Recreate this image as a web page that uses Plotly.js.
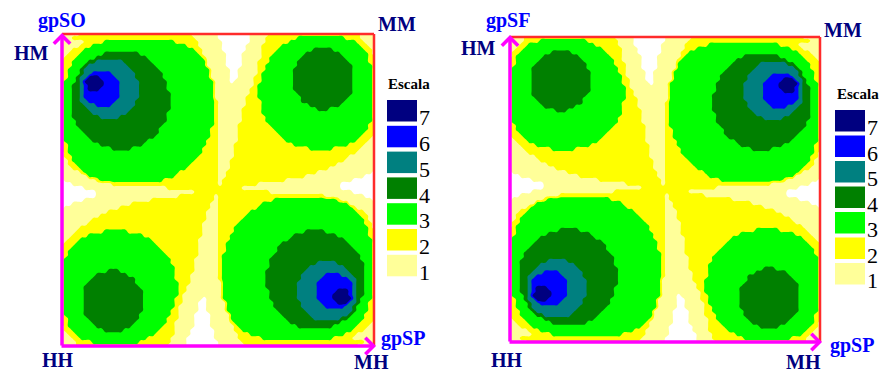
<!DOCTYPE html>
<html>
<head>
<meta charset="utf-8">
<script src="https://cdn.plot.ly/plotly-3.0.1.min.js"></script>
<style>
html,body{margin:0;padding:0;background:#ffffff;}
#chart{width:881px;height:372px;}
</style>
</head>
<body>
<div id="chart"></div>
<script>
// Scale level on an 80 x 80 grid (0 = blank, 1..7 = "Escala").
// Each row (top row first) is written as runs "level:count" along the row, left to right.
const leftLevelRuns = [
"1:5 2:28 1:7 0:8 1:5 2:23 1:4",
"1:3 2:31 1:6 0:8 1:4 2:8 3:12 2:4 1:4",
"1:6 2:5 3:18 2:6 1:6 0:7 1:4 2:6 3:17 2:2 1:3",
"1:5 2:3 3:24 2:3 1:6 0:6 1:4 2:5 3:20 2:2 1:2",
"1:3 2:3 3:28 2:2 1:5 0:6 1:4 2:4 3:9 4:5 3:8 2:2 1:1",
"1:2 2:3 3:6 4:9 3:15 2:1 1:6 0:4 1:5 2:3 3:8 4:9 3:7 2:1 1:1",
"1:1 2:3 3:5 4:13 3:14 2:1 1:5 0:4 1:5 2:2 3:8 4:11 3:6 2:2",
"2:3 3:4 4:2 5:7 4:7 3:14 1:5 0:4 1:4 2:3 3:7 4:13 3:5 2:2",
"2:3 3:3 4:1 5:10 4:7 3:13 1:5 0:4 1:4 2:2 3:8 4:14 3:5 2:1",
"2:2 3:3 4:1 5:12 4:7 3:13 1:5 0:2 1:5 2:2 3:7 4:15 3:5 2:1",
"2:2 3:3 4:1 5:2 6:5 5:6 4:7 3:12 1:5 0:2 1:5 2:1 3:8 4:15 3:5 2:1",
"2:2 3:2 4:1 5:2 7:3 6:4 5:5 4:7 3:12 1:5 0:2 1:4 2:2 3:8 4:15 3:5 2:1",
"2:1 3:3 4:1 5:1 7:5 6:4 5:5 4:7 3:12 1:4 0:1 1:5 2:2 3:8 4:15 3:5 2:1",
"2:1 3:2 4:2 5:1 6:1 7:4 6:4 5:5 4:7 3:12 1:10 2:1 3:9 4:15 3:5 2:1",
"2:1 3:2 4:2 5:1 6:1 7:3 6:5 5:5 4:7 3:12 1:9 2:2 3:9 4:15 3:5 2:1",
"2:1 3:2 4:2 5:1 6:9 5:5 4:8 3:11 1:9 2:2 3:10 4:14 3:5 2:1",
"2:1 3:2 4:2 5:1 6:9 5:5 4:8 3:11 1:8 2:3 3:11 4:12 3:6 2:1",
"2:1 3:2 4:2 5:2 6:7 5:5 4:9 3:11 2:1 1:7 2:4 3:10 4:11 3:7 2:1",
"2:1 3:2 4:3 5:3 6:4 5:6 4:9 3:11 2:1 1:7 2:4 3:12 4:8 3:8 2:1",
"2:1 3:2 4:4 5:11 4:10 3:11 2:1 1:6 2:5 3:14 4:3 3:11 2:1",
"2:1 3:2 4:5 5:9 4:10 3:12 2:1 1:6 2:5 3:28 2:1",
"2:1 3:2 4:7 5:5 4:12 3:12 2:1 1:6 2:6 3:27 2:1",
"2:1 3:3 4:23 3:12 2:1 1:6 2:6 3:27 2:1",
"2:1 3:3 4:22 3:13 2:1 1:5 2:8 3:25 2:2",
"2:1 3:4 4:20 3:13 2:2 1:5 2:9 3:24 2:2",
"2:1 3:5 4:19 3:13 2:2 1:5 2:10 3:22 2:3",
"2:1 3:6 4:17 3:14 2:2 1:5 2:11 3:20 2:3 1:1",
"2:1 3:7 4:14 3:15 2:3 1:5 2:12 3:18 2:3 1:2",
"2:2 3:8 4:11 3:16 2:3 1:4 2:15 3:14 2:4 1:3",
"2:2 3:11 4:5 3:18 2:4 1:4 2:19 3:6 2:7 1:4",
"1:1 2:1 3:34 2:4 1:4 2:31 1:5",
"1:1 2:2 3:32 2:5 1:4 2:29 1:7",
"1:2 2:1 3:31 2:6 1:3 2:29 1:8",
"1:2 2:2 3:29 2:7 1:3 2:27 1:10",
"1:3 2:2 3:27 2:8 1:3 2:25 1:12",
"1:5 2:1 3:24 2:10 1:2 2:23 1:14 0:1",
"1:7 3:22 2:11 1:2 2:20 1:15 0:3",
"0:1 1:8 2:1 3:16 2:14 1:1 2:16 1:17 0:6",
"0:3 1:10 2:27 1:1 2:9 1:21 0:9",
"0:6 1:21 2:19 1:25 0:9",
"0:9 1:25 2:19 1:21 0:6",
"0:9 1:21 2:9 1:1 2:27 1:10 0:3",
"0:6 1:17 2:16 1:1 2:14 3:16 2:1 1:8 0:1",
"0:3 1:15 2:20 1:2 2:11 3:22 1:7",
"0:1 1:14 2:23 1:2 2:10 3:24 2:1 1:5",
"1:12 2:25 1:3 2:8 3:27 2:2 1:3",
"1:10 2:27 1:3 2:7 3:29 2:2 1:2",
"1:8 2:29 1:3 2:6 3:31 2:1 1:2",
"1:7 2:29 1:4 2:5 3:32 2:2 1:1",
"1:5 2:31 1:4 2:4 3:34 2:1 1:1",
"1:4 2:7 3:6 2:19 1:4 2:4 3:18 4:5 3:11 2:2",
"1:3 2:4 3:14 2:15 1:4 2:3 3:16 4:11 3:8 2:2",
"1:2 2:3 3:18 2:12 1:5 2:3 3:15 4:14 3:7 2:1",
"1:1 2:3 3:20 2:11 1:5 2:2 3:14 4:17 3:6 2:1",
"2:3 3:22 2:10 1:5 2:2 3:13 4:19 3:5 2:1",
"2:2 3:24 2:9 1:5 2:2 3:13 4:20 3:4 2:1",
"2:2 3:25 2:8 1:5 2:1 3:13 4:22 3:3 2:1",
"2:1 3:27 2:6 1:6 2:1 3:12 4:23 3:3 2:1",
"2:1 3:27 2:6 1:6 2:1 3:12 4:12 5:5 4:7 3:2 2:1",
"2:1 3:28 2:5 1:6 2:1 3:12 4:10 5:9 4:5 3:2 2:1",
"2:1 3:11 4:3 3:14 2:5 1:6 2:1 3:11 4:10 5:11 4:4 3:2 2:1",
"2:1 3:8 4:8 3:12 2:4 1:7 2:1 3:11 4:9 5:6 6:4 5:3 4:3 3:2 2:1",
"2:1 3:7 4:11 3:10 2:4 1:7 2:1 3:11 4:9 5:5 6:7 5:2 4:2 3:2 2:1",
"2:1 3:6 4:12 3:11 2:3 1:8 3:11 4:8 5:5 6:9 5:1 4:2 3:2 2:1",
"2:1 3:5 4:14 3:10 2:2 1:9 3:11 4:8 5:5 6:9 5:1 4:2 3:2 2:1",
"2:1 3:5 4:15 3:9 2:2 1:9 3:12 4:7 5:5 6:5 7:3 6:1 5:1 4:2 3:2 2:1",
"2:1 3:5 4:15 3:9 2:1 1:10 3:12 4:7 5:5 6:4 7:4 6:1 5:1 4:2 3:2 2:1",
"2:1 3:5 4:15 3:8 2:2 1:5 0:1 1:4 3:12 4:7 5:5 6:4 7:5 5:1 4:1 3:3 2:1",
"2:1 3:5 4:15 3:8 2:2 1:4 0:2 1:5 3:12 4:7 5:5 6:4 7:3 5:2 4:1 3:2 2:2",
"2:1 3:5 4:15 3:8 2:1 1:5 0:2 1:5 3:12 4:7 5:6 6:5 5:2 4:1 3:3 2:2",
"2:1 3:5 4:15 3:7 2:2 1:5 0:2 1:5 3:13 4:7 5:12 4:1 3:3 2:2",
"2:1 3:5 4:14 3:8 2:2 1:4 0:4 1:5 3:13 4:7 5:10 4:1 3:3 2:3",
"2:2 3:5 4:13 3:7 2:3 1:4 0:4 1:5 3:14 4:7 5:7 4:2 3:4 2:3",
"2:2 3:6 4:11 3:8 2:2 1:5 0:4 1:5 2:1 3:14 4:13 3:5 2:3 1:1",
"1:1 2:1 3:7 4:9 3:8 2:3 1:5 0:4 1:6 2:1 3:15 4:9 3:6 2:3 1:2",
"1:1 2:2 3:8 4:5 3:9 2:4 1:4 0:6 1:5 2:2 3:28 2:3 1:3",
"1:2 2:2 3:20 2:5 1:4 0:6 1:6 2:3 3:24 2:3 1:5",
"1:3 2:2 3:17 2:6 1:4 0:7 1:6 2:6 3:18 2:5 1:6",
"1:4 2:4 3:12 2:8 1:4 0:8 1:6 2:31 1:3",
"1:4 2:23 1:5 0:8 1:7 2:28 1:5"
];
const rightLevelRuns = [
"1:4 2:23 1:5 0:8 1:7 2:28 1:5",
"1:4 2:4 3:12 2:8 1:4 0:8 1:6 2:31 1:3",
"1:3 2:2 3:17 2:6 1:4 0:7 1:6 2:6 3:18 2:5 1:6",
"1:2 2:2 3:20 2:5 1:4 0:6 1:6 2:3 3:24 2:3 1:5",
"1:1 2:2 3:8 4:5 3:9 2:4 1:4 0:6 1:5 2:2 3:28 2:3 1:3",
"1:1 2:1 3:7 4:9 3:8 2:3 1:5 0:4 1:6 2:1 3:15 4:9 3:6 2:3 1:2",
"2:2 3:6 4:11 3:8 2:2 1:5 0:4 1:5 2:1 3:14 4:13 3:5 2:3 1:1",
"2:2 3:5 4:13 3:7 2:3 1:4 0:4 1:5 3:14 4:7 5:7 4:2 3:4 2:3",
"2:1 3:5 4:14 3:8 2:2 1:4 0:4 1:5 3:13 4:7 5:10 4:1 3:3 2:3",
"2:1 3:5 4:15 3:7 2:2 1:5 0:2 1:5 3:13 4:7 5:12 4:1 3:3 2:2",
"2:1 3:5 4:15 3:8 2:1 1:5 0:2 1:5 3:12 4:7 5:6 6:5 5:2 4:1 3:3 2:2",
"2:1 3:5 4:15 3:8 2:2 1:4 0:2 1:5 3:12 4:7 5:5 6:4 7:3 5:2 4:1 3:2 2:2",
"2:1 3:5 4:15 3:8 2:2 1:5 0:1 1:4 3:12 4:7 5:5 6:4 7:5 5:1 4:1 3:3 2:1",
"2:1 3:5 4:15 3:9 2:1 1:10 3:12 4:7 5:5 6:4 7:4 6:1 5:1 4:2 3:2 2:1",
"2:1 3:5 4:15 3:9 2:2 1:9 3:12 4:7 5:5 6:5 7:3 6:1 5:1 4:2 3:2 2:1",
"2:1 3:5 4:14 3:10 2:2 1:9 3:11 4:8 5:5 6:9 5:1 4:2 3:2 2:1",
"2:1 3:6 4:12 3:11 2:3 1:8 3:11 4:8 5:5 6:9 5:1 4:2 3:2 2:1",
"2:1 3:7 4:11 3:10 2:4 1:7 2:1 3:11 4:9 5:5 6:7 5:2 4:2 3:2 2:1",
"2:1 3:8 4:8 3:12 2:4 1:7 2:1 3:11 4:9 5:6 6:4 5:3 4:3 3:2 2:1",
"2:1 3:11 4:3 3:14 2:5 1:6 2:1 3:11 4:10 5:11 4:4 3:2 2:1",
"2:1 3:28 2:5 1:6 2:1 3:12 4:10 5:9 4:5 3:2 2:1",
"2:1 3:27 2:6 1:6 2:1 3:12 4:12 5:5 4:7 3:2 2:1",
"2:1 3:27 2:6 1:6 2:1 3:12 4:23 3:3 2:1",
"2:2 3:25 2:8 1:5 2:1 3:13 4:22 3:3 2:1",
"2:2 3:24 2:9 1:5 2:2 3:13 4:20 3:4 2:1",
"2:3 3:22 2:10 1:5 2:2 3:13 4:19 3:5 2:1",
"1:1 2:3 3:20 2:11 1:5 2:2 3:14 4:17 3:6 2:1",
"1:2 2:3 3:18 2:12 1:5 2:3 3:15 4:14 3:7 2:1",
"1:3 2:4 3:14 2:15 1:4 2:3 3:16 4:11 3:8 2:2",
"1:4 2:7 3:6 2:19 1:4 2:4 3:18 4:5 3:11 2:2",
"1:5 2:31 1:4 2:4 3:34 2:1 1:1",
"1:7 2:29 1:4 2:5 3:32 2:2 1:1",
"1:8 2:29 1:3 2:6 3:31 2:1 1:2",
"1:10 2:27 1:3 2:7 3:29 2:2 1:2",
"1:12 2:25 1:3 2:8 3:27 2:2 1:3",
"0:1 1:14 2:23 1:2 2:10 3:24 2:1 1:5",
"0:3 1:15 2:20 1:2 2:11 3:22 1:7",
"0:6 1:17 2:16 1:1 2:14 3:16 2:1 1:8 0:1",
"0:9 1:21 2:9 1:1 2:27 1:10 0:3",
"0:9 1:25 2:19 1:21 0:6",
"0:6 1:21 2:19 1:25 0:9",
"0:3 1:10 2:27 1:1 2:9 1:21 0:9",
"0:1 1:8 2:1 3:16 2:14 1:1 2:16 1:17 0:6",
"1:7 3:22 2:11 1:2 2:20 1:15 0:3",
"1:5 2:1 3:24 2:10 1:2 2:23 1:14 0:1",
"1:3 2:2 3:27 2:8 1:3 2:25 1:12",
"1:2 2:2 3:29 2:7 1:3 2:27 1:10",
"1:2 2:1 3:31 2:6 1:3 2:29 1:8",
"1:1 2:2 3:32 2:5 1:4 2:29 1:7",
"1:1 2:1 3:34 2:4 1:4 2:31 1:5",
"2:2 3:11 4:5 3:18 2:4 1:4 2:19 3:6 2:7 1:4",
"2:2 3:8 4:11 3:16 2:3 1:4 2:15 3:14 2:4 1:3",
"2:1 3:7 4:14 3:15 2:3 1:5 2:12 3:18 2:3 1:2",
"2:1 3:6 4:17 3:14 2:2 1:5 2:11 3:20 2:3 1:1",
"2:1 3:5 4:19 3:13 2:2 1:5 2:10 3:22 2:3",
"2:1 3:4 4:20 3:13 2:2 1:5 2:9 3:24 2:2",
"2:1 3:3 4:22 3:13 2:1 1:5 2:8 3:25 2:2",
"2:1 3:3 4:23 3:12 2:1 1:6 2:6 3:27 2:1",
"2:1 3:2 4:7 5:5 4:12 3:12 2:1 1:6 2:6 3:27 2:1",
"2:1 3:2 4:5 5:9 4:10 3:12 2:1 1:6 2:5 3:28 2:1",
"2:1 3:2 4:4 5:11 4:10 3:11 2:1 1:6 2:5 3:14 4:3 3:11 2:1",
"2:1 3:2 4:3 5:3 6:4 5:6 4:9 3:11 2:1 1:7 2:4 3:12 4:8 3:8 2:1",
"2:1 3:2 4:2 5:2 6:7 5:5 4:9 3:11 2:1 1:7 2:4 3:10 4:11 3:7 2:1",
"2:1 3:2 4:2 5:1 6:9 5:5 4:8 3:11 1:8 2:3 3:11 4:12 3:6 2:1",
"2:1 3:2 4:2 5:1 6:9 5:5 4:8 3:11 1:9 2:2 3:10 4:14 3:5 2:1",
"2:1 3:2 4:2 5:1 6:1 7:3 6:5 5:5 4:7 3:12 1:9 2:2 3:9 4:15 3:5 2:1",
"2:1 3:2 4:2 5:1 6:1 7:4 6:4 5:5 4:7 3:12 1:10 2:1 3:9 4:15 3:5 2:1",
"2:1 3:3 4:1 5:1 7:5 6:4 5:5 4:7 3:12 1:4 0:1 1:5 2:2 3:8 4:15 3:5 2:1",
"2:2 3:2 4:1 5:2 7:3 6:4 5:5 4:7 3:12 1:5 0:2 1:4 2:2 3:8 4:15 3:5 2:1",
"2:2 3:3 4:1 5:2 6:5 5:6 4:7 3:12 1:5 0:2 1:5 2:1 3:8 4:15 3:5 2:1",
"2:2 3:3 4:1 5:12 4:7 3:13 1:5 0:2 1:5 2:2 3:7 4:15 3:5 2:1",
"2:3 3:3 4:1 5:10 4:7 3:13 1:5 0:4 1:4 2:2 3:8 4:14 3:5 2:1",
"2:3 3:4 4:2 5:7 4:7 3:14 1:5 0:4 1:4 2:3 3:7 4:13 3:5 2:2",
"1:1 2:3 3:5 4:13 3:14 2:1 1:5 0:4 1:5 2:2 3:8 4:11 3:6 2:2",
"1:2 2:3 3:6 4:9 3:15 2:1 1:6 0:4 1:5 2:3 3:8 4:9 3:7 2:1 1:1",
"1:3 2:3 3:28 2:2 1:5 0:6 1:4 2:4 3:9 4:5 3:8 2:2 1:1",
"1:5 2:3 3:24 2:3 1:6 0:6 1:4 2:5 3:20 2:2 1:2",
"1:6 2:5 3:18 2:6 1:6 0:7 1:4 2:6 3:17 2:2 1:3",
"1:3 2:31 1:6 0:8 1:4 2:8 3:12 2:4 1:4",
"1:5 2:28 1:7 0:8 1:5 2:23 1:4"
];

const levelLabels = ['7','6','5','4','3','2','1'];
const levelColors = ['#ffffff','#ffff99','#ffff00','#00ff00','#008000','#008080','#0000ff','#000080']; // level 0..7
const legendTitle = 'Escala';
const leftCornerLabels  = ['gpSO','HM','MM','HH','MH','gpSP'];
const rightCornerLabels = ['gpSF','HM','MM','HH','MH','gpSP'];

// ---------- build ----------
const W = 881, H = 372, N = 80;
const px = x => x / W;
const py = y => 1 - y / H;

function decodeRows(runs) {
  return runs.map((row, k) => {
    const out = [];
    row.trim().split(/\s+/).forEach(tok => {
      const parts = tok.split(':');
      const lev = Number(parts[0]), cnt = Number(parts[1]);
      for (let c = 0; c < cnt; c++) out.push(lev);
    });
    if (out.length !== N) console.error('row ' + k + ' has ' + out.length + ' cells');
    while (out.length < N) out.push(out[out.length - 1]);
    return out.slice(0, N);
  });
}
const gridIdx = Array.from({length: N}, (_, i) => i);
const cscale = levelColors.map((c, i) => [i / (levelColors.length - 1), c]);

function contour(runs, xa, ya) {
  return {
    type: 'contour', x: gridIdx, y: gridIdx, z: decodeRows(runs),
    xaxis: xa, yaxis: ya, autocontour: false,
    contours: {start: 0.5, end: 6.5, size: 1, coloring: 'fill', showlines: false},
    colorscale: cscale, showscale: false,
    line: {width: 0, smoothing: 1.3}, hoverinfo: 'skip'
  };
}

const data = [
  contour(leftLevelRuns, 'x', 'y'),
  contour(rightLevelRuns, 'x2', 'y2')
];

const serif = 'Liberation Serif, Times New Roman, serif';
const BLUE = '#0000ff', NAVY = '#000080';

const panels = [
  {box: [62, 34, 374, 346], axisTop: 33, axisRight: 376,
   labels: leftCornerLabels,
   pos: [[61.5, 20.5], [31.5, 53.5], [397, 23.5], [57.5, 360], [371.5, 361.5], [402.5, 338.5]],
   legend: {x0: 387, x1: 417, top: 100, pitch: 25.8, h: 21.5, tx: 424.7, title: [408.5, 83.5]}},
  {box: [510, 37, 820, 342], axisTop: 35, axisRight: 822,
   labels: rightCornerLabels,
   pos: [[508, 20.5], [478.5, 48], [842.5, 29.5], [506.5, 360], [803.5, 361.5], [851.5, 345.5]],
   legend: {x0: 835, x1: 865, top: 110, pitch: 25.5, h: 21.5, tx: 872, title: [857.5, 94]}}
];

const shapes = [], annotations = [];
panels.forEach(p => {
  const [x0, y0, x1, y1] = p.box;
  shapes.push({type: 'line', xref: 'paper', yref: 'paper', x0: px(x0), x1: px(x1), y0: py(y0), y1: py(y0),
               line: {color: '#ff2b2b', width: 2.5}});
  shapes.push({type: 'line', xref: 'paper', yref: 'paper', x0: px(x1), x1: px(x1), y0: py(y0), y1: py(y1),
               line: {color: '#ff2b2b', width: 2.5}});
  annotations.push({xref: 'paper', yref: 'paper', x: px(x0), y: py(p.axisTop), text: '', showarrow: true,
                    axref: 'pixel', ayref: 'pixel', ax: 0, ay: y1 - p.axisTop + 1,
                    arrowhead: 4, arrowsize: 0.9, arrowwidth: 3.5, arrowcolor: '#ff00ff', standoff: 0});
  annotations.push({xref: 'paper', yref: 'paper', x: px(p.axisRight), y: py(y1), text: '', showarrow: true,
                    axref: 'pixel', ayref: 'pixel', ax: -(p.axisRight - x0 + 2), ay: 0,
                    arrowhead: 4, arrowsize: 0.9, arrowwidth: 3.5, arrowcolor: '#ff00ff', standoff: 0});
  p.labels.forEach((t, k) => {
    const isGp = t.indexOf('gp') === 0;
    annotations.push({xref: 'paper', yref: 'paper', x: px(p.pos[k][0]), y: py(p.pos[k][1]),
                      xanchor: 'center', yanchor: 'middle', showarrow: false, text: '<b>' + t + '</b>',
                      font: {family: serif, size: 20, color: isGp ? BLUE : NAVY}});
  });
  const L = p.legend;
  annotations.push({xref: 'paper', yref: 'paper', x: px(L.title[0]), y: py(L.title[1]),
                    xanchor: 'center', yanchor: 'middle', showarrow: false, text: '<b>' + legendTitle + '</b>',
                    font: {family: serif, size: 15, color: '#000000'}});
  levelLabels.forEach((lab, k) => {
    const top = L.top + k * L.pitch;
    shapes.push({type: 'rect', xref: 'paper', yref: 'paper', x0: px(L.x0), x1: px(L.x1),
                 y0: py(top + L.h), y1: py(top), fillcolor: levelColors[Number(lab)], line: {width: 0}});
    annotations.push({xref: 'paper', yref: 'paper', x: px(L.tx), y: py(top + 17.6),
                      xanchor: 'center', yanchor: 'middle', showarrow: false, text: lab,
                      font: {family: serif, size: 22, color: '#000000'}});
  });
});

const ax = (d, anchor) => ({domain: d, visible: false, fixedrange: true, anchor: anchor,
                            showgrid: false, zeroline: false});
const layout = {
  width: W, height: H, margin: {l: 0, r: 0, t: 0, b: 0},
  paper_bgcolor: '#ffffff', plot_bgcolor: '#ffffff', showlegend: false,
  xaxis: Object.assign(ax([px(62), px(374)], 'y'), {range: [0, N - 1]}),
  yaxis: Object.assign(ax([py(346), py(34)], 'x'), {range: [N - 1, 0]}),
  xaxis2: Object.assign(ax([px(510), px(820)], 'y2'), {range: [0, N - 1]}),
  yaxis2: Object.assign(ax([py(342), py(37)], 'x2'), {range: [N - 1, 0]}),
  shapes: shapes, annotations: annotations
};

Plotly.newPlot('chart', data, layout, {displayModeBar: false, staticPlot: true});
</script>
</body>
</html>
